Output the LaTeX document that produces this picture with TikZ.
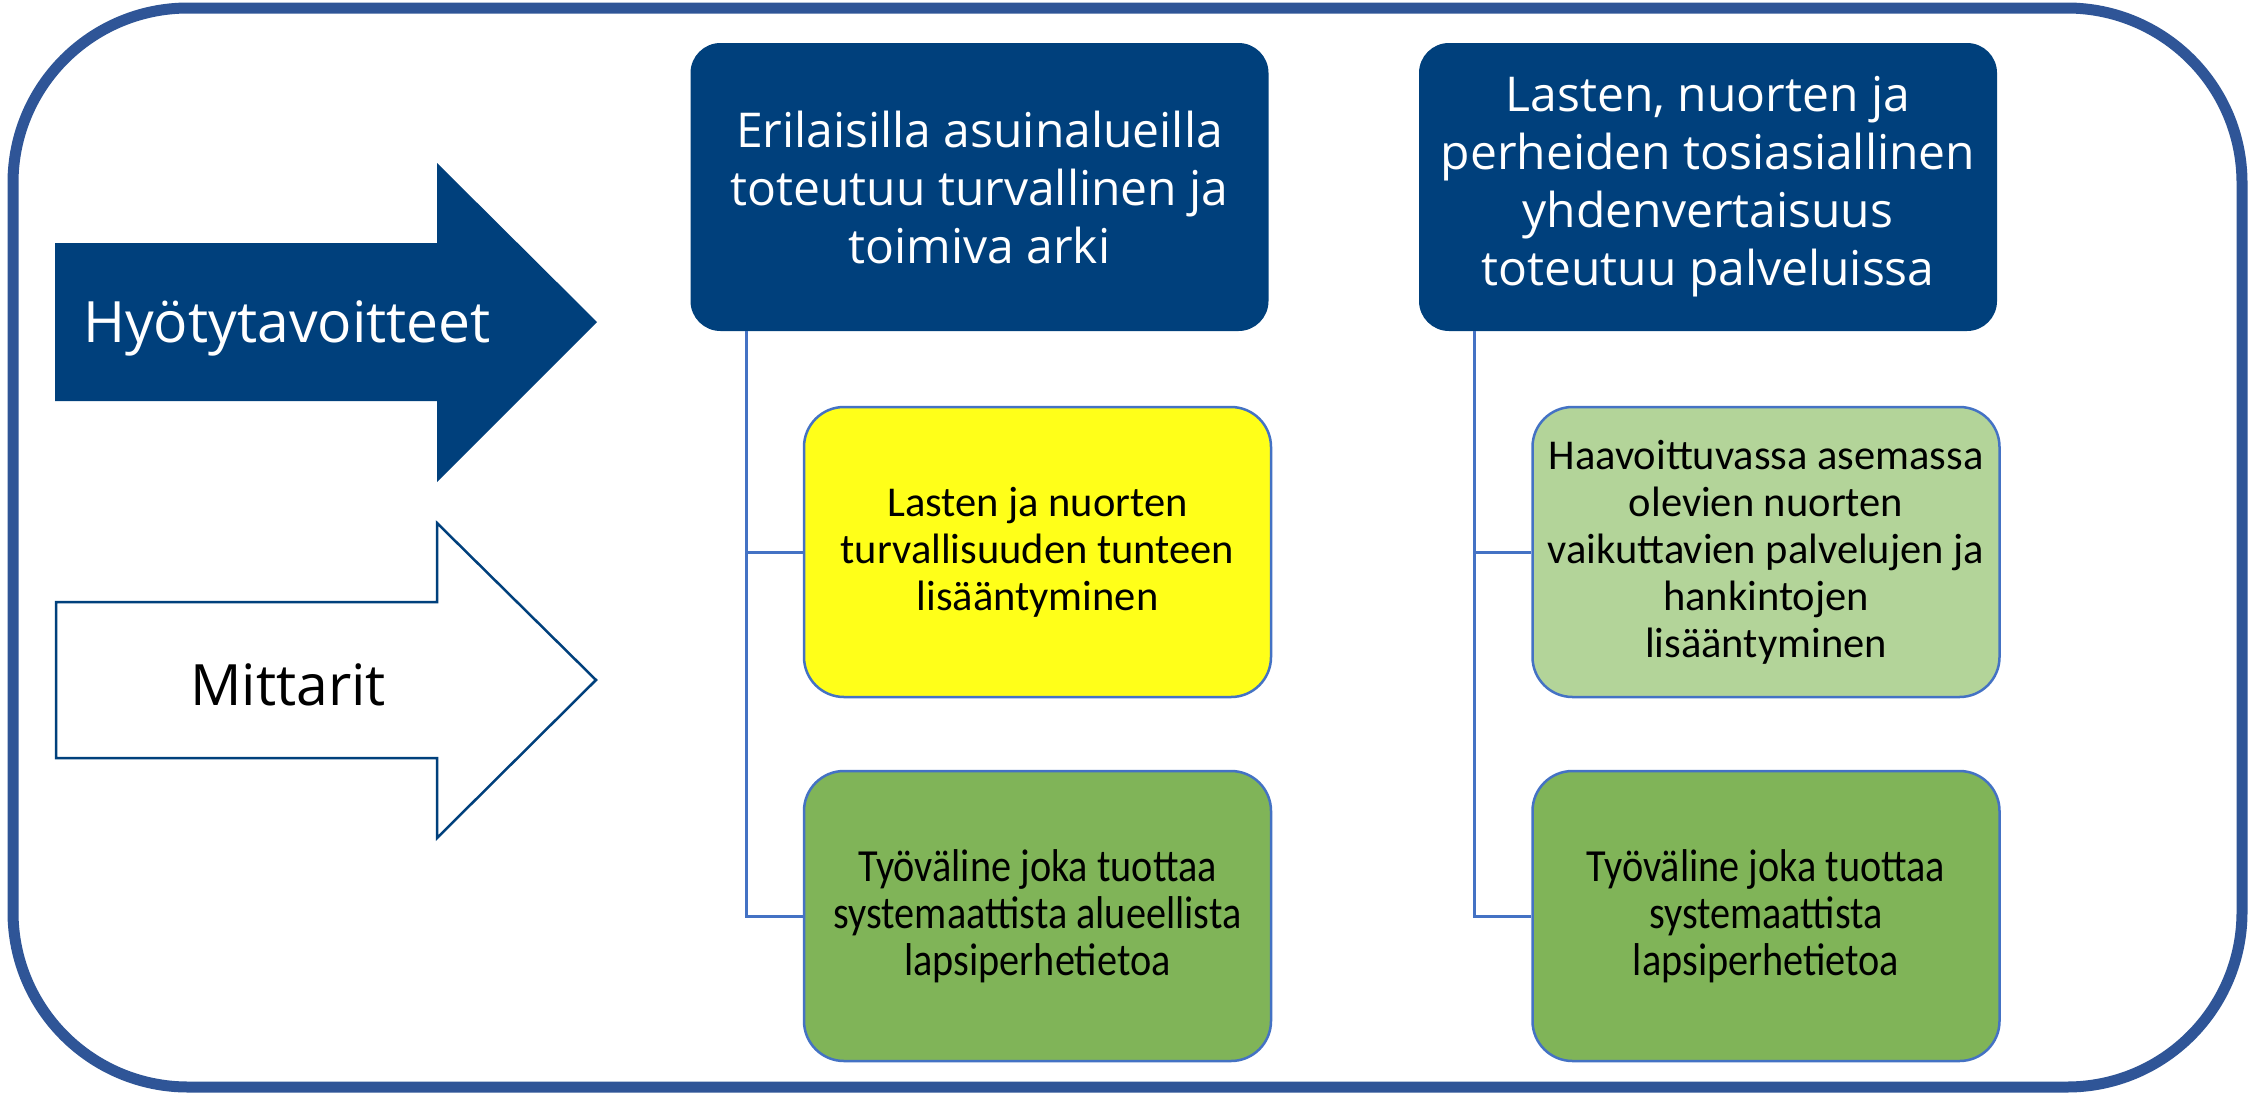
\documentclass[tikz,border=0pt]{standalone}
\usepackage{fontspec}
\setmainfont{Open Sans}
\newfontfamily\calib{Carlito}
\newfontfamily\calibc{Carlito}[FakeStretch=0.875]
\definecolor{dblue}{RGB}{0,64,124}
\definecolor{frameblue}{RGB}{47,85,151}
\definecolor{lineblue}{RGB}{68,114,196}
\definecolor{ylw}{RGB}{255,255,25}
\definecolor{grn}{RGB}{128,180,88}
\definecolor{lgrn}{RGB}{179,212,153}
\tikzset{
  goalbox/.style={rectangle, rounded corners=30, fill=dblue, text=white,
    minimum width=578, minimum height=288, align=center,
    font=\fontsize{48}{58}\selectfont},
  subbox/.style={rectangle, rounded corners=40, draw=lineblue, line width=2.5,
    minimum width=467, minimum height=290, align=center,
    font=\calib\fontsize{42.5}{47}\selectfont},
  condbox/.style={subbox, font=\calibc\fontsize{46}{47}\selectfont},
  conn/.style={draw=lineblue, line width=3},
  arrowlabel/.style={font=\fontsize{57}{64}\selectfont}
}
\begin{document}
\begin{tikzpicture}[x=1pt,y=-1pt]
\useasboundingbox (0,0) rectangle (2264,1093);
\fill[white] (0,0) rectangle (2264,1093);
% outer frame
\draw[frameblue, line width=11, rounded corners=175] (13,8) rectangle (2242,1087);

% Hyotytavoitteet arrow
\fill[dblue] (55,243) -- (437,243) -- (437,163) -- (597,322) -- (437,482) -- (437,401) -- (55,401) -- cycle;
\node[arrowlabel, text=white] (hyoty) at (287,328) {Hyötytavoitteet};

% Mittarit arrow
\draw[dblue, line width=2.5, fill=white] (56,602) -- (437,602) -- (437,523) -- (596,680) -- (437,838) -- (437,758) -- (56,758) -- cycle;
\node[arrowlabel, text=black] (mitt) at (288,685) {Mittarit};

% goal boxes
\node[goalbox] (g1) at (979.5,187) {Erilaisilla asuinalueilla\\toteutuu turvallinen ja\\toimiva arki};
\node[goalbox] (g2) at (1708,187) {Lasten, nuorten ja\\perheiden tosiasiallinen\\yhdenvertaisuus\\toteutuu palveluissa};

% sub boxes
\node[subbox, fill=ylw] (s1) at (1037.5,552) {Lasten ja nuorten\\turvallisuuden tunteen\\lisääntyminen};
\node[condbox, fill=grn] (s2) at (1037.5,916) {Työväline joka tuottaa\\systemaattista alueellista\\lapsiperhetietoa};
\node[subbox, fill=lgrn] (s3) at (1766,552) {Haavoittuvassa asemassa\\olevien nuorten\\vaikuttavien palvelujen ja\\hankintojen\\lisääntyminen};
\node[condbox, fill=grn] (s4) at (1766,916) {Työväline joka tuottaa\\systemaattista\\lapsiperhetietoa};

% connectors
\coordinate (j1) at (746,331);
\coordinate (j2) at (1474,331);
\draw[conn] (j1) |- (s1.west);
\draw[conn] (j1) |- (s2.west);
\draw[conn] (j2) |- (s3.west);
\draw[conn] (j2) |- (s4.west);
\end{tikzpicture}
\end{document}
